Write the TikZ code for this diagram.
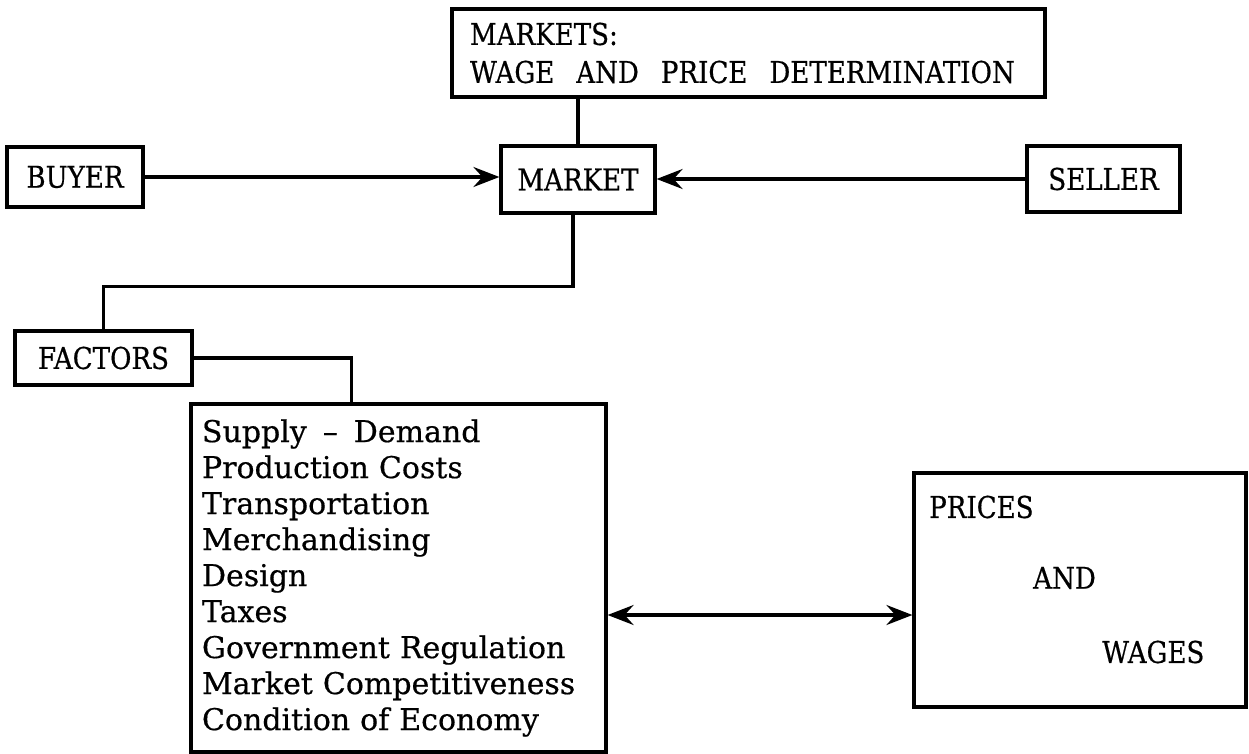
\documentclass[tikz,border=0pt]{standalone}
\usepackage{fontspec}
\setmainfont{DejaVu Serif}[FakeBold=0.5]
\newfontfamily\capfont{DejaVu Serif}[FakeStretch=0.87,FakeBold=0.5]
\usetikzlibrary{arrows.meta}
\begin{document}
\begin{tikzpicture}[x=1pt,y=-1pt,
  box/.style={draw,line width=3.2pt,inner sep=0pt},
  caps/.style={font=\capfont\fontsize{30}{38}\selectfont},
  listtext/.style={font=\fontsize{30}{36}\selectfont},
  conn/.style={line width=3.2pt},
  tip/.tip={Stealth[length=26pt,width=20pt,inset=9pt]},
  arr/.style={conn,-tip},
  darr/.style={conn,tip-tip}]
\useasboundingbox (0,0) rectangle (1249,754);

\node[box,caps,minimum width=593pt,minimum height=88pt,inner xsep=18pt,
      text width=557pt,align=left] (markets) at (748.5,53)
  {MARKETS:\\\mbox{WAGE\hspace{12pt} AND\hspace{12pt} PRICE\hspace{12pt} DETERMINATION}};
\node[box,caps,minimum width=136pt,minimum height=60pt] (buyer) at (75,177) {BUYER};
\node[box,caps,minimum width=154pt,minimum height=67pt] (market) at (578,179.5) {MARKET};
\node[box,caps,minimum width=153pt,minimum height=66pt] (seller) at (1103.5,179) {SELLER};
\node[box,caps,minimum width=177pt,minimum height=54pt] (factors) at (103.5,358) {FACTORS};
\node[box,listtext,minimum width=415pt,minimum height=348pt,inner xsep=11pt,
      text width=393pt,align=left] (list) at (398.5,578)
  {Supply\hspace{6pt} --\hspace{6pt} Demand\\Production Costs\\Transportation\\Merchandising\\Design\\Taxes\\Government Regulation\\Market Competitiveness\\Condition of Economy};
\node[box,minimum width=332pt,minimum height=234pt] (prices) at (1080,590) {};
\node[caps,anchor=west,inner sep=0pt] (tprices) at (929,507) {PRICES};
\node[caps,anchor=west,inner sep=0pt] (tand) at (1033,578) {AND};
\node[caps,anchor=west,inner sep=0pt] (twages) at (1102,652) {WAGES};

\draw[conn] (market.north) -- (market.north |- markets.south);
\draw[arr] (buyer.east) -- (buyer.east -| market.west);
\draw[arr] (seller.west) -- (seller.west -| market.east);
\draw[conn] ([xshift=-5pt]market.south) -- ++(0,72) -| (factors.north);
\draw[conn] (factors.east) -| ([xshift=-47pt]list.north);
\draw[darr] ([yshift=-37pt]list.east) -- ([yshift=-37pt]list.east -| prices.west);
\end{tikzpicture}
\end{document}
